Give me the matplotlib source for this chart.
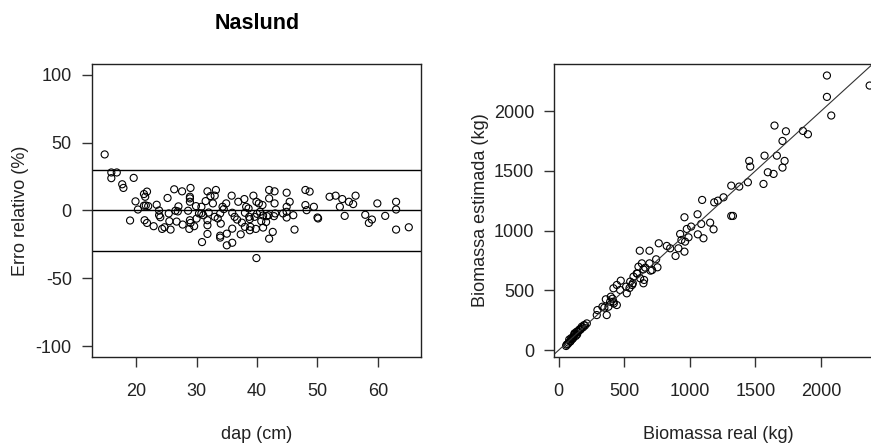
import matplotlib.pyplot as plt
import numpy as np

plt.rcParams['font.family'] = ['Liberation Sans', 'DejaVu Sans']
plt.rcParams['axes.unicode_minus'] = False

# painel 1: erro relativo x dap
dap = [14.8, 15.9, 15.9, 16.8, 17.7, 17.9, 19.6, 19.0, 19.9, 20.3,
       21.3, 21.5, 21.8, 21.3, 21.6, 22.0, 21.4, 21.8, 22.9, 23.4,
       23.8, 23.8, 24.3, 24.7, 25.2, 25.4, 25.5, 25.7, 26.3, 26.5,
       26.9, 26.7, 27.6, 27.7, 28.6, 29.0, 28.9, 28.9, 28.9, 28.9,
       29.0, 28.8, 29.6, 29.9, 30.4, 30.8, 31.1, 30.9, 30.8, 31.5,
       31.8, 31.8, 31.8, 31.8, 32.3, 32.7, 33.0, 33.2, 33.0, 33.5,
       33.9, 34.0, 33.9, 33.9, 34.3, 34.9, 35.0, 35.0, 35.8, 35.9,
       35.9, 35.9, 36.3, 36.7, 36.9, 37.3, 37.9, 38.0, 38.2, 38.0,
       38.6, 38.7, 38.8, 38.9, 38.8, 39.4, 39.8, 39.9, 40.3, 39.9,
       39.6, 40.5, 40.7, 40.9, 41.0, 41.0, 41.6, 42.0, 42.0, 41.9,
       42.0, 42.6, 42.9, 42.9, 42.8, 43.0, 44.3, 44.9, 44.9, 44.9,
       44.9, 45.4, 46.0, 46.2, 48.0, 48.0, 48.2, 48.7, 49.4, 50.0,
       50.1, 52.0, 53.0, 53.7, 54.1, 54.5, 55.2, 55.9, 56.3, 57.9,
       58.5, 59.0, 59.9, 61.2, 63.0, 63.0, 63.0, 65.1,
       24.0, 27.0, 30.0, 32.0, 34.5, 37.5, 40.0, 41.5]
erro = [41.3, 28.0, 23.8, 28.0, 19.3, 16.6, 24.0, -7.4, 6.7, 0.7,
        12.1, 10.1, 13.9, 3.5, 3.7, 3.2, -7.2, -9.2, -11.6, 4.2,
        0.0, -3.5, -13.6, -12.4, 9.2, -2.2, -7.9, -14.1, 15.6, -0.2,
        -0.7, -8.2, 14.1, -10.4, -0.2, 16.6, 10.1, 8.9, 6.4, -7.2,
        -9.2, -13.6, -11.6, 3.2, -2.2, -2.2, -3.5, -23.3, 2.7, 6.9,
        14.1, -7.2, -10.9, -17.3, 10.6, 5.2, 10.9, 15.1, -4.7, -5.9,
        -2.2, -9.7, -18.6, -20.0, 2.7, 5.2, -25.7, -17.1, 10.9, -1.7,
        -13.4, -23.8, -4.7, -6.7, 6.4, -17.6, 8.4, -1.7, 2.7, -12.1,
        1.5, -4.7, -6.4, -12.1, -14.6, 10.9, -13.6, 6.4, 5.2, -35.1,
        -4.7, -1.0, -7.9, 4.0, -12.6, -3.7, -4.2, 15.1, 8.9, -3.5,
        -20.8, -15.8, 14.1, 5.2, -4.2, -2.2, -2.2, 13.1, 2.7, -1.0,
        -5.2, 6.4, -3.5, -14.1, 15.1, 4.0, 0.2, 13.9, 2.7, -5.2,
        -5.9, 10.1, 10.9, 2.7, 8.4, -4.0, 6.4, 4.7, 10.9, -3.2,
        -9.2, -6.7, 5.2, -4.0, 6.4, 0.7, -14.1, -12.4,
        -5.0, 3.0, -6.0, -1.5, 1.0, -9.0, -2.5, -8.5]

# painel 2: biomassa real x estimada
bio_real = [2046, 2046, 2079, 2372, 1646, 1733, 1707, 1863, 1901, 1570,
            1664, 1723, 1453, 1461, 1707, 1595, 1639, 1562, 1443, 1377,
            1316, 1257, 1214, 1186, 1094, 1316, 1329, 1059, 1087, 1155,
            1181, 1104, 1061, 959, 977, 1010, 990, 964, 959, 926,
            936, 891, 913, 850, 824, 763, 692, 618, 743, 753,
            692, 712, 646, 634, 608, 595, 621, 651, 646, 570,
            565, 545, 514, 473, 443, 519, 468, 417, 397, 392,
            417, 379, 443, 359, 348, 366, 295, 333, 290, 410,
            420, 540, 560, 600, 660, 700,
            56, 69, 87, 99, 112, 125, 137, 158, 176, 193,
            214, 60, 75, 95, 105, 118, 130, 145, 150, 165,
            185, 200, 80, 110, 140, 120, 90, 170]
bio_est = [2299, 2120, 1964, 2215, 1880, 1832, 1751, 1835, 1807, 1628,
           1628, 1584, 1584, 1536, 1528, 1489, 1475, 1391, 1405, 1369,
           1377, 1279, 1251, 1237, 1257, 1123, 1123, 1137, 1056, 1067,
           1011, 936, 969, 1112, 1014, 1034, 944, 908, 824, 972,
           922, 788, 852, 852, 872, 894, 832, 832, 760, 693,
           726, 670, 676, 726, 698, 642, 601, 587, 559, 615,
           559, 573, 531, 581, 545, 475, 503, 517, 447, 405,
           405, 363, 377, 425, 355, 293, 335, 363, 293, 430,
           390, 520, 545, 640, 690, 665,
           34, 50, 70, 89, 112, 134, 154, 173, 196, 209,
           223, 45, 62, 100, 95, 128, 118, 150, 160, 170,
           190, 205, 88, 100, 130, 140, 75, 180]

fig = plt.figure(figsize=(8.71, 4.44), dpi=100)
ax1 = fig.add_axes([0.1056, 0.196, 0.3783, 0.66])
ax2 = fig.add_axes([0.6364, 0.196, 0.3777, 0.66])

tcol = '#222222'
mk = dict(marker='o', s=26, facecolors='none', edgecolors='black', linewidths=0.8)

ax1.scatter(dap, erro, **mk)
for h in [30, 0, -30]:
    ax1.axhline(h, color='black', lw=1.0)
ax1.set_xlim(12.7, 67.2)
ax1.set_ylim(-108, 108)
ax1.set_xticks([20, 30, 40, 50, 60])
ax1.set_yticks([-100, -50, 0, 50, 100])
ax1.set_xlabel('dap (cm)', fontsize=13, color=tcol)
ax1.set_ylabel('Erro relativo (%)', fontsize=13, color=tcol)
ax1.set_title('Naslund', fontsize=15.5, fontweight='bold', pad=25)

ax2.scatter(bio_real, bio_est, **mk)
ax2.plot([-100, 2600], [-100, 2600], color='#333333', lw=0.8)
ax2.set_xlim(-34, 2476)
ax2.set_ylim(-58, 2396)
ax2.set_xticks([0, 500, 1000, 1500, 2000])
ax2.set_yticks([0, 500, 1000, 1500, 2000])
ax2.set_xlabel('Biomassa real (kg)', fontsize=13, color=tcol)
ax2.set_ylabel('Biomassa estimada (kg)', fontsize=13, color=tcol)

# posicao dos rotulos como no R
ax1.yaxis.set_label_coords(-0.19, 0.5)
ax2.yaxis.set_label_coords(-0.197, 0.5)
ax1.xaxis.set_label_coords(0.5, -0.237)
ax2.xaxis.set_label_coords(0.5, -0.237)

for ax in (ax1, ax2):
    ax.tick_params(length=7.5, width=1, labelsize=13, labelcolor=tcol, color='#333333')
    ax.tick_params(axis='x', pad=11)
    ax.tick_params(axis='y', pad=7)
    for sp in ax.spines.values():
        sp.set_color('#222222')
        sp.set_linewidth(1)

fig.savefig('out.png', dpi=100)
